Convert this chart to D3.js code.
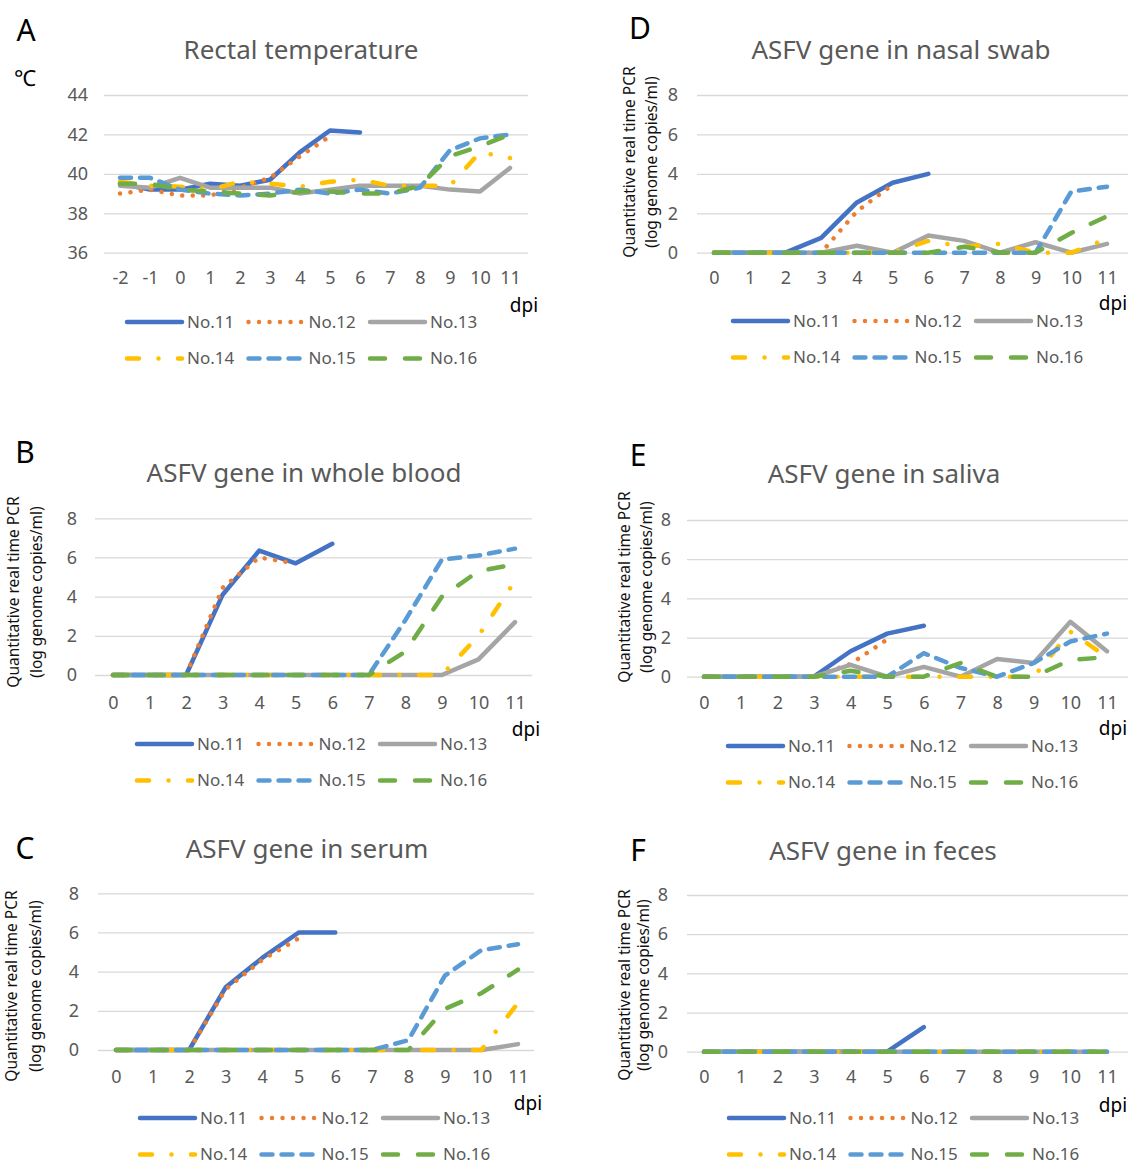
<!DOCTYPE html>
<html>
<head>
<meta charset="utf-8">
<script src="https://cdn.jsdelivr.net/npm/d3@7"></script>
<style>
body { margin: 0; background: #fff; }
text { font-family: "Noto Sans", sans-serif; }
</style>
</head>
<body>
<div id="chart"></div>
<script>
// pigs and sampling days
var pigs = ["No.11", "No.12", "No.13", "No.14", "No.15", "No.16"]
var tempDays = [-2, -1, 0, 1, 2, 3, 4, 5, 6, 7, 8, 9, 10, 11]
var pcrDays = [0, 1, 2, 3, 4, 5, 6, 7, 8, 9, 10, 11]
var tempTicks = [36, 38, 40, 42, 44]
var pcrTicks = [0, 2, 4, 6, 8]

// A: rectal temperature (°C), one row per pig, null = no sample
var rectalTemp = [
    [39.5, 39.2, 39.2, 39.5, 39.4, 39.7, 41.1, 42.2, 42.1, null, null, null, null, null],
    [39.0, 39.2, 38.9, 38.9, 39.3, 39.8, 40.9, 41.9, null, null, null, null, null, null],
    [39.4, 39.3, 39.8, 39.3, 39.3, 39.3, 39.0, 39.2, 39.4, 39.4, 39.4, 39.2, 39.1, 40.3],
    [39.6, 39.4, 39.35, 39.2, 39.6, 39.5, 39.35, 39.6, 39.7, 39.4, 39.4, 39.4, 41.1, 40.8],
    [39.8, 39.8, 39.2, 39.0, 38.9, 39.0, 39.2, 39.0, 39.2, 39.0, 39.3, 41.2, 41.8, 42.0],
    [39.5, 39.5, 39.2, 39.1, 39.0, 38.9, 39.1, 39.1, 39.0, 39.0, 39.4, 40.9, 41.4, 42.0]
]
// B: whole blood (log copies/ml)
var wholeBlood = [
    [0, 0, 0, 4.1, 6.35, 5.7, 6.7, null, null, null, null, null],
    [0, 0, 0, 4.45, 6.0, 5.7, null, null, null, null, null, null],
    [0, 0, 0, 0, 0, 0, 0, 0, 0, 0, 0.8, 2.7],
    [0, 0, 0, 0, 0, 0, 0, 0, 0, 0, 2.0, 4.8],
    [0, 0, 0, 0, 0, 0, 0, 0, 2.8, 5.9, 6.1, 6.45],
    [0, 0, 0, 0, 0, 0, 0, 0, 1.2, 4.0, 5.3, 5.65]
]
// C: serum
var serum = [
    [0, 0, 0, 3.2, 4.7, 6.0, 6.0, null, null, null, null, null],
    [0, 0, 0, 3.1, 4.6, 5.7, null, null, null, null, null, null],
    [0, 0, 0, 0, 0, 0, 0, 0, 0, 0, 0, 0.3],
    [0, 0, 0, 0, 0, 0, 0, 0, 0, 0, 0, 2.4],
    [0, 0, 0, 0, 0, 0, 0, 0, 0.5, 3.8, 5.1, 5.4],
    [0, 0, 0, 0, 0, 0, 0, 0, 0, 2.1, 2.9, 4.1]
]
// D: nasal swab
var nasalSwab = [
    [0, 0, 0, 0.75, 2.55, 3.55, 4.0, null, null, null, null, null],
    [0, 0, 0, 0, 2.1, 3.45, null, null, null, null, null, null],
    [0, 0, 0, 0, 0.35, 0, 0.87, 0.6, 0, 0.53, 0, 0.45],
    [0, 0, 0, 0, 0, 0, 0.6, 0.3, 0.45, 0, 0, 0.7],
    [0, 0, 0, 0, 0, 0, 0, 0, 0, 0, 3.1, 3.35],
    [0, 0, 0, 0, 0, 0, 0, 0.3, 0, 0, 1.0, 1.85]
]
// E: saliva
var saliva = [
    [0, 0, 0, 0, 1.3, 2.2, 2.6, null, null, null, null, null],
    [0, 0, 0, 0, 0.65, 1.9, null, null, null, null, null, null],
    [0, 0, 0, 0, 0.6, 0, 0.5, 0, 0.9, 0.7, 2.8, 1.3],
    [0, 0, 0, 0, 0, 0, 0, 0, 0, 0, 2.3, 1.0],
    [0, 0, 0, 0, 0, 0, 1.2, 0.45, 0, 0.7, 1.8, 2.2],
    [0, 0, 0, 0, 0.3, 0, 0, 0.7, 0, 0, 0.85, 1.0]
]
// F: feces
var feces = [
    [0, 0, 0, 0, 0, 0, 1.25, null, null, null, null, null],
    [0, 0, 0, 0, 0, 0, null, null, null, null, null, null],
    [0, 0, 0, 0, 0, 0, 0, 0, 0, 0, 0, 0],
    [0, 0, 0, 0, 0, 0, 0, 0, 0, 0, 0, 0],
    [0, 0, 0, 0, 0, 0, 0, 0, 0, 0, 0, 0],
    [0, 0, 0, 0, 0, 0, 0, 0, 0, 0, 0, 0]
]

// line styles (excel-ish)
var colours = ["#4472C4", "#ED7D31", "#A5A5A5", "#FFC000", "#5B9BD5", "#70AD47"]
var dashes = [null, "0.01,10.5", null, "12,19.5,0.01,19.5", "11,9", "15,20"]

var panels = [
    {letter: "A", title: "Rectal temperature", days: tempDays, values: rectalTemp, ticks: tempTicks,
     lx: 26, ly: 30, tx: 301, ty: 50, x0: 120, x1: 510, yb: 252.7, yt: 95, gl: 104, gr: 528, pad: 16,
     xly: 278, dx: 524, dy: 305, legx: 125, legy: 322, unit: true},
    {letter: "B", title: "ASFV gene in whole blood", days: pcrDays, values: wholeBlood, ticks: pcrTicks,
     lx: 25, ly: 452, tx: 304, ty: 473, x0: 113, x1: 515, yb: 675, yt: 518.3, gl: 95, gr: 532, pad: 18,
     xly: 703, dx: 526, dy: 729, legx: 135, legy: 744, ylx: [14, 37], yly: 592},
    {letter: "C", title: "ASFV gene in serum", days: pcrDays, values: serum, ticks: pcrTicks,
     lx: 25, ly: 848, tx: 307, ty: 849, x0: 116, x1: 518, yb: 1050, yt: 893.3, gl: 98, gr: 534, pad: 19,
     xly: 1077, dx: 528, dy: 1103, legx: 138, legy: 1118, ylx: [12, 35.5], yly: 986},
    {letter: "D", title: "ASFV gene in nasal swab", days: pcrDays, values: nasalSwab, ticks: pcrTicks,
     lx: 640, ly: 28, tx: 901, ty: 50, x0: 714, x1: 1107, yb: 252.7, yt: 95, gl: 697, gr: 1128, pad: 19,
     xly: 278, dx: 1113, dy: 303, legx: 731, legy: 321, ylx: [630, 652], yly: 162},
    {letter: "E", title: "ASFV gene in saliva", days: pcrDays, values: saliva, ticks: pcrTicks,
     lx: 638, ly: 455, tx: 884, ty: 474, x0: 704, x1: 1107, yb: 676.7, yt: 520, gl: 687, gr: 1128, pad: 16,
     xly: 703, dx: 1113, dy: 728, legx: 726, legy: 746, ylx: [625, 647], yly: 587},
    {letter: "F", title: "ASFV gene in feces", days: pcrDays, values: feces, ticks: pcrTicks,
     lx: 638, ly: 850, tx: 883, ty: 851, x0: 704, x1: 1107, yb: 1051.7, yt: 895, gl: 687, gr: 1128, pad: 19,
     xly: 1077, dx: 1113, dy: 1105, legx: 727, legy: 1118, ylx: [625, 644], yly: 985}
]

var svg = d3.select("#chart")
    .append("svg")
    .attr("width", 1133)
    .attr("height", 1164)

panels.forEach(function(p) {
    var g = svg.append("g")

    var x = d3.scaleLinear()
        .domain([p.days[0], p.days[p.days.length - 1]])
        .range([p.x0, p.x1])
    var y = d3.scaleLinear()
        .domain([p.ticks[0], p.ticks[p.ticks.length - 1]])
        .range([p.yb, p.yt])

    // gridlines + y tick labels
    var yAxis = g.append("g")
        .attr("transform", "translate(" + p.gl + ",0)")
        .call(d3.axisLeft(y).tickValues(p.ticks).tickSize(-(p.gr - p.gl)).tickPadding(p.pad))
    yAxis.select(".domain").remove()
    yAxis.selectAll("line").attr("stroke", "#D9D9D9").attr("stroke-width", 1.3)
    yAxis.selectAll("text").attr("fill", "#595959").style("font-size", "18px")

    // x tick labels (no axis line), plain hyphen for negatives like excel
    var xAxis = g.append("g")
        .attr("transform", "translate(0," + p.xly + ")")
        .call(d3.axisBottom(x).tickValues(p.days).tickSize(0).tickPadding(0)
            .tickFormat(function(d) { return String(d) }))
    xAxis.select(".domain").remove()
    xAxis.selectAll("text").attr("fill", "#595959").attr("dy", "0.35em").style("font-size", "18px")

    var line = d3.line()
        .defined(function(d) { return d[1] != null })
        .x(function(d) { return x(d[0]) })
        .y(function(d) { return y(d[1]) })

    p.values.forEach(function(vals, i) {
        var pts = p.days.map(function(day, j) { return [day, vals[j]] })
        g.append("path")
            .attr("d", line(pts))
            .attr("fill", "none")
            .attr("stroke", colours[i])
            .attr("stroke-width", 4.5)
            .attr("stroke-linecap", "round")
            .attr("stroke-linejoin", "round")
            .attr("stroke-dasharray", dashes[i])
    })

    // legend, 2 rows of 3
    pigs.forEach(function(name, i) {
        var lx = p.legx + (i % 3) * 121.5
        var ly = p.legy + Math.floor(i / 3) * 36.5
        g.append("line")
            .attr("x1", lx + 2).attr("x2", lx + 57)
            .attr("y1", ly).attr("y2", ly)
            .attr("stroke", colours[i])
            .attr("stroke-width", 4.5)
            .attr("stroke-linecap", "round")
            .attr("stroke-dasharray", dashes[i])
        g.append("text")
            .attr("x", lx + 62).attr("y", ly)
            .attr("dy", "0.35em")
            .attr("fill", "#595959")
            .style("font-size", "17px")
            .text(name)
    })

    g.append("text")
        .attr("x", p.tx).attr("y", p.ty)
        .attr("dy", "0.35em")
        .attr("text-anchor", "middle")
        .attr("fill", "#595959")
        .style("font-size", "26px")
        .text(p.title)

    g.append("text")
        .attr("x", p.lx).attr("y", p.ly)
        .attr("dy", "0.35em")
        .attr("text-anchor", "middle")
        .attr("fill", "#000")
        .style("font-size", "30px")
        .text(p.letter)

    g.append("text")
        .attr("x", p.dx).attr("y", p.dy)
        .attr("dy", "0.35em")
        .attr("text-anchor", "middle")
        .attr("fill", "#000")
        .style("font-size", "19px")
        .text("dpi")

    if (p.unit) {
        g.append("text")
            .attr("x", 25).attr("y", 78)
            .attr("dy", "0.35em")
            .attr("text-anchor", "middle")
            .attr("fill", "#000")
            .style("font-size", "22px")
            .text("℃")
    } else {
        ["Quantitative real time PCR", "(log genome copies/ml)"].forEach(function(t, k) {
            g.append("text")
                .attr("transform", "translate(" + p.ylx[k] + "," + p.yly + ") rotate(-90)")
                .attr("dy", "0.35em")
                .attr("text-anchor", "middle")
                .attr("fill", "#111")
                .style("font-size", "15.5px")
                .text(t)
        })
    }
})
</script>
</body>
</html>
